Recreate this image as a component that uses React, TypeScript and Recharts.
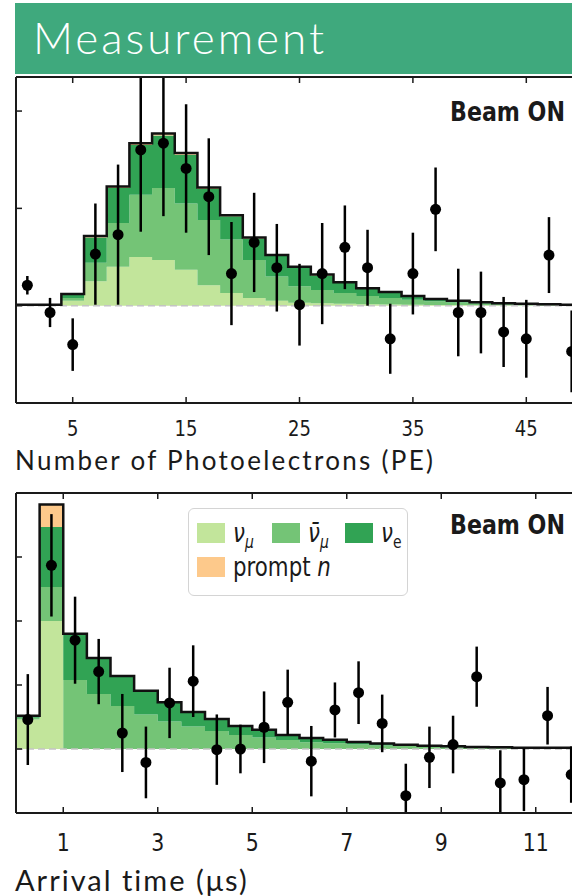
import React from 'react';
import {
  ComposedChart,
  Area,
  Line,
  Scatter,
  ErrorBar,
  XAxis,
  YAxis,
  ReferenceLine,
  Legend,
} from 'recharts';

// Number of photoelectrons, 2 PE bins
const peBinStart = [0, 2, 4, 6, 8, 10, 12, 14, 16, 18, 20, 22, 24, 26, 28, 30, 32, 34, 36, 38, 40, 42, 44, 46, 48];
const peBinWidth = 2;
const peNuMu = [0, 0, 0.5, 2.5, 4.0, 5.0, 4.7, 3.7, 2.1, 1.3, 0.8, 0.5, 0.3, 0.25, 0.2, 0.15, 0.12, 0.1, 0.08, 0.06, 0.05, 0.04, 0.03, 0.02, 0.02];
const peNuMuBar = [0.05, 0.05, 0.3, 1.9, 4.5, 6.4, 7.4, 6.8, 6.7, 5.5, 3.9, 2.5, 1.7, 1.35, 1.1, 0.85, 0.68, 0.5, 0.37, 0.26, 0.17, 0.12, 0.09, 0.07, 0.04];
const peNuE = [0.05, 0.05, 0.3, 2.6, 3.6, 5.1, 5.4, 5.0, 3.2, 2.4, 2.2, 2.1, 1.9, 1.5, 1.05, 0.75, 0.55, 0.37, 0.23, 0.17, 0.12, 0.08, 0.07, 0.05, 0.04];
const pePromptN = [0, 0, 0.1, 0.15, 0.15, 0.2, 0.2, 0.2, 0.15, 0.1, 0.1, 0.1, 0.1, 0.1, 0.05, 0.05, 0.05, 0.03, 0.02, 0.01, 0.01, 0.01, 0.01, 0.01, 0];

const peObsX = [1, 3, 5, 7, 9, 11, 13, 15, 17, 19, 21, 23, 25, 27, 29, 31, 33, 35, 37, 39, 41, 43, 45, 47, 49];
const peObsY = [2.1, -0.7, -4.0, 5.3, 7.3, 16.0, 16.7, 14.1, 11.2, 3.3, 6.5, 3.9, 0.1, 3.3, 6.0, 3.9, -3.4, 3.3, 9.9, -0.7, -0.7, -2.7, -3.4, 5.2, -4.7];
const peObsErr = [0.95, 1.5, 2.7, 5.2, 7.2, 8.4, 7.5, 6.6, 6.0, 5.3, 5.1, 4.5, 4.2, 5.2, 4.3, 3.9, 3.6, 4.2, 4.3, 4.5, 4.2, 3.6, 4.0, 3.9, 4.2];

const peTicks = [5, 15, 25, 35, 45];
const peCountTicks = [0, 10, 20];

// Arrival time, 0.5 us bins
const tBinStart = [0, 0.5, 1, 1.5, 2, 2.5, 3, 3.5, 4, 4.5, 5, 5.5, 6, 6.5, 7, 7.5, 8, 8.5, 9, 9.5, 10, 10.5, 11, 11.5];
const tBinWidth = 0.5;
const tNuMu = [4.6, 20.0, 0, 0, 0, 0, 0, 0, 0, 0, 0, 0, 0, 0, 0, 0, 0, 0, 0, 0, 0, 0, 0, 0];
const tNuMuBar = [0.3, 5.3, 10.8, 8.6, 6.7, 5.4, 4.3, 3.5, 2.8, 2.2, 1.8, 1.4, 1.05, 0.9, 0.7, 0.55, 0.45, 0.35, 0.28, 0.22, 0.18, 0.15, 0.14, 0.14];
const tNuE = [0.3, 9.4, 7.2, 5.6, 4.7, 3.7, 3.0, 2.3, 1.9, 1.4, 1.2, 0.8, 0.65, 0.55, 0.4, 0.3, 0.22, 0.17, 0.14, 0.1, 0.08, 0.06, 0.06, 0.06];
const tPromptN = [0, 3.5, 0, 0, 0, 0, 0, 0, 0, 0, 0, 0, 0, 0, 0, 0, 0, 0, 0, 0, 0, 0, 0, 0];

const tObsX = [0.25, 0.75, 1.25, 1.75, 2.25, 2.75, 3.25, 3.75, 4.25, 4.75, 5.25, 5.75, 6.25, 6.75, 7.25, 7.75, 8.25, 8.75, 9.25, 9.75, 10.25, 10.75, 11.25, 11.75];
const tObsY = [4.6, 28.7, 17.0, 12.1, 2.5, -2.1, 7.2, 10.6, -0.1, 0, 3.4, 7.3, -1.9, 6.1, 8.8, 4.0, -7.3, -1.3, 0.7, 11.3, -5.3, -4.8, 5.2, -4.0];
const tObsErr = [7.1, 8.0, 6.8, 5.1, 6.1, 5.6, 5.5, 5.6, 5.5, 3.8, 5.6, 5.1, 5.5, 4.3, 4.9, 4.5, 5.0, 4.8, 4.5, 4.7, 5.1, 4.9, 4.5, 4.4];

const tTicks = [1, 3, 5, 7, 9, 11];
const tCountTicks = [0, 10, 20, 30];

const COLORS: Record<string, string> = {
  nuMu: '#c2e59b',
  nuMuBar: '#74c476',
  nuE: '#31a354',
  promptN: '#fdc98b',
};

// legend order, left to right then next row
const legendKeys = ['nuMu', 'nuMuBar', 'nuE', 'promptN'];

const SUB = { fontSize: 17, verticalAlign: 'sub' as const, lineHeight: 0 };

const LEGEND_LABELS: Record<string, React.ReactNode> = {
  nuMu: (
    <>
      <i>ν</i>
      <i style={SUB}>μ</i>
    </>
  ),
  nuMuBar: (
    <>
      <i>ν̄</i>
      <i style={SUB}>μ</i>
    </>
  ),
  nuE: (
    <>
      <i>ν</i>
      <span style={SUB}>e</span>
    </>
  ),
  promptN: (
    <>
      prompt <i>n</i>
    </>
  ),
};

function buildSteps(starts: number[], width: number, nuMu: number[], nuMuBar: number[], nuE: number[], promptN: number[]) {
  const rows = starts.map((x, i) => ({
    x,
    nuMu: nuMu[i],
    nuMuBar: nuMuBar[i],
    nuE: nuE[i],
    promptN: promptN[i],
    total: nuMu[i] + nuMuBar[i] + nuE[i] + promptN[i],
  }));
  // close the last bin at its upper edge
  const last = rows[rows.length - 1];
  rows.push({ ...last, x: last.x + width });
  return rows;
}

function buildPoints(xs: number[], ys: number[], errs: number[]) {
  return xs.map((x, i) => ({ x, y: ys[i], err: errs[i] }));
}

const peRows = buildSteps(peBinStart, peBinWidth, peNuMu, peNuMuBar, peNuE, pePromptN);
const tRows = buildSteps(tBinStart, tBinWidth, tNuMu, tNuMuBar, tNuE, tPromptN);
const pePoints = buildPoints(peObsX, peObsY, peObsErr);
const tPoints = buildPoints(tObsX, tObsY, tObsErr);

const CHART_W = 600;
const MARGIN_TOP = 14;
const MARGIN_LEFT = 15;
const MARGIN_RIGHT = 17;
const AXIS_THICK = 1;

const FRAME = { stroke: '#1a1a1a', strokeWidth: 2 };
const TICK_LINE = { stroke: '#1a1a1a', strokeWidth: 1.5 };

const NoLabel = () => <g />;

const makeTickLabel = (size: number, dy: number) => (props: any) => {
  const { x, y, payload } = props;
  return (
    <text
      transform={`translate(${x},${y}) scale(0.82,1)`}
      textAnchor="middle"
      dy={dy}
      fontFamily="DejaVu Sans, sans-serif"
      fontSize={size}
      fill="#1a1a1a"
    >
      {payload.value}
    </text>
  );
};

const DataDot = (props: any) => <circle cx={props.cx} cy={props.cy} r={5.5} fill="#000" />;

const LegendBox = () => (
  <div
    style={{
      width: 220,
      height: 88,
      boxSizing: 'border-box',
      border: '1.5px solid #d4d4d4',
      borderRadius: 6,
      background: '#fff',
      padding: '14px 0 0 8px',
      display: 'grid',
      gridTemplateColumns: '75px 73px auto',
      gridAutoRows: 34,
      fontFamily: 'DejaVu Sans, sans-serif',
      fontSize: 26,
      color: '#1a1a1a',
    }}
  >
    {legendKeys.map((key) => (
      <div key={key} style={{ display: 'flex', alignItems: 'center', height: 20, whiteSpace: 'nowrap' }}>
        <span style={{ display: 'inline-block', flex: 'none', width: 28, height: 20, background: COLORS[key], marginRight: 8 }} />
        <span style={{ display: 'inline-block', transform: 'scaleX(0.82)', transformOrigin: 'left center', lineHeight: 1 }}>
          {LEGEND_LABELS[key]}
        </span>
      </div>
    ))}
  </div>
);

type PanelProps = {
  rows: any[];
  points: any[];
  xDomain: [number, number];
  xTicks: number[];
  yDomain: [number, number];
  yTicks: number[];
  height: number;
  marginBottom: number;
  tickSize: number;
  tickDy: number;
  withLegend?: boolean;
};

function Panel({ rows, points, xDomain, xTicks, yDomain, yTicks, height, marginBottom, tickSize, tickDy, withLegend }: PanelProps) {
  return (
    <ComposedChart
      width={CHART_W}
      height={height}
      data={rows}
      margin={{ top: MARGIN_TOP, right: MARGIN_RIGHT, bottom: marginBottom, left: MARGIN_LEFT }}
    >
      <XAxis
        xAxisId="top"
        orientation="top"
        type="number"
        dataKey="x"
        domain={xDomain}
        ticks={xTicks}
        height={AXIS_THICK}
        tickSize={-6}
        tick={NoLabel}
        axisLine={FRAME}
        tickLine={TICK_LINE}
        allowDataOverflow
      />
      <XAxis
        type="number"
        dataKey="x"
        domain={xDomain}
        ticks={xTicks}
        height={AXIS_THICK}
        tickSize={-6}
        tickMargin={6}
        tick={makeTickLabel(tickSize, tickDy)}
        axisLine={FRAME}
        tickLine={TICK_LINE}
        allowDataOverflow
      />
      <YAxis
        type="number"
        domain={yDomain}
        ticks={yTicks}
        width={AXIS_THICK}
        tickSize={-6}
        tick={NoLabel}
        axisLine={FRAME}
        tickLine={TICK_LINE}
        allowDataOverflow
      />
      <Area type="stepAfter" dataKey="nuMu" stackId="mc" fill={COLORS.nuMu} fillOpacity={1} stroke="none" isAnimationActive={false} />
      <Area type="stepAfter" dataKey="nuMuBar" stackId="mc" fill={COLORS.nuMuBar} fillOpacity={1} stroke="none" isAnimationActive={false} />
      <Area type="stepAfter" dataKey="nuE" stackId="mc" fill={COLORS.nuE} fillOpacity={1} stroke="none" isAnimationActive={false} />
      <Area type="stepAfter" dataKey="promptN" stackId="mc" fill={COLORS.promptN} fillOpacity={1} stroke="none" isAnimationActive={false} />
      <ReferenceLine y={0} stroke="#c4c4c4" strokeDasharray="7 4" strokeWidth={1.5} />
      <Line type="stepAfter" dataKey="total" stroke="#111" strokeWidth={2.5} dot={false} legendType="none" isAnimationActive={false} />
      <Scatter data={points} dataKey="y" fill="#000" shape={DataDot} legendType="none" isAnimationActive={false}>
        <ErrorBar dataKey="err" direction="y" width={0} stroke="#000" strokeWidth={2.5} />
      </Scatter>
      {withLegend && (
        <Legend
          layout="horizontal"
          verticalAlign="middle"
          align="center"
          content={LegendBox}
          wrapperStyle={{ left: 188, top: 30, width: 220, height: 88 }}
        />
      )}
    </ComposedChart>
  );
}

// plot-area clip in each chart's own coordinates, so long error bars stop at the frame
const PlotClip = ({ id, height, marginBottom }: { id: string; height: number; marginBottom: number }) => {
  const x = MARGIN_LEFT + AXIS_THICK;
  const y = MARGIN_TOP + AXIS_THICK;
  return (
    <clipPath id={id} clipPathUnits="userSpaceOnUse">
      <rect x={x} y={y} width={CHART_W - x - MARGIN_RIGHT} height={height - y - marginBottom - AXIS_THICK} />
    </clipPath>
  );
};

const PE_H = 381;
const PE_MB = 39;
const T_H = 380;
const T_MB = 44;

const beamLabel: React.CSSProperties = {
  position: 'absolute',
  left: 450,
  fontFamily: 'DejaVu Sans, sans-serif',
  fontWeight: 700,
  fontSize: 27,
  lineHeight: 1,
  color: '#1a1a1a',
  transform: 'scaleX(0.82)',
  transformOrigin: 'left top',
  whiteSpace: 'nowrap',
};

const axisTitle: React.CSSProperties = {
  position: 'absolute',
  left: 15,
  fontFamily: 'Lato, sans-serif',
  letterSpacing: 2.3,
  lineHeight: 1,
  color: '#1a1a1a',
  whiteSpace: 'nowrap',
};

export default function App() {
  return (
    <div style={{ position: 'absolute', left: 0, top: 0, width: 572, height: 896, overflow: 'hidden', background: '#fff' }}>
      <style>{`
        #pe-panel .recharts-errorBar { clip-path: url(#pe-plot); }
        #t-panel .recharts-errorBar { clip-path: url(#t-plot); }
      `}</style>
      <svg width={0} height={0} style={{ position: 'absolute' }}>
        <defs>
          <PlotClip id="pe-plot" height={PE_H} marginBottom={PE_MB} />
          <PlotClip id="t-plot" height={T_H} marginBottom={T_MB} />
        </defs>
      </svg>

      <div
        style={{
          position: 'absolute',
          left: 15,
          top: 3,
          width: 557,
          height: 71,
          background: '#3fa97d',
        }}
      >
        <div
          style={{
            position: 'absolute',
            left: 18,
            top: 12,
            fontFamily: 'Lato, sans-serif',
            fontWeight: 300,
            fontSize: 44,
            letterSpacing: 3,
            color: '#fff',
            lineHeight: 1,
          }}
        >
          Measurement
        </div>
      </div>

      <div id="pe-panel" style={{ position: 'absolute', left: 0, top: 62 }}>
        <Panel
          rows={peRows}
          points={pePoints}
          xDomain={[0, 50]}
          xTicks={peTicks}
          yDomain={[-10, 23.5]}
          yTicks={peCountTicks}
          height={PE_H}
          marginBottom={PE_MB}
          tickSize={22}
          tickDy={33}
        />
      </div>
      <div style={{ ...beamLabel, top: 98 }}>Beam ON</div>
      <div style={{ ...axisTitle, fontSize: 26, top: 447 }}>Number of Photoelectrons (PE)</div>

      <div id="t-panel" style={{ position: 'absolute', left: 0, top: 478 }}>
        <Panel
          rows={tRows}
          points={tPoints}
          xDomain={[0, 12]}
          xTicks={tTicks}
          yDomain={[-10, 40]}
          yTicks={tCountTicks}
          height={T_H}
          marginBottom={T_MB}
          tickSize={25}
          tickDy={38}
          withLegend
        />
      </div>
      <div style={{ ...beamLabel, top: 511 }}>Beam ON</div>
      <div style={{ ...axisTitle, fontSize: 29, letterSpacing: 2, top: 865 }}>Arrival time (μs)</div>
    </div>
  );
}
